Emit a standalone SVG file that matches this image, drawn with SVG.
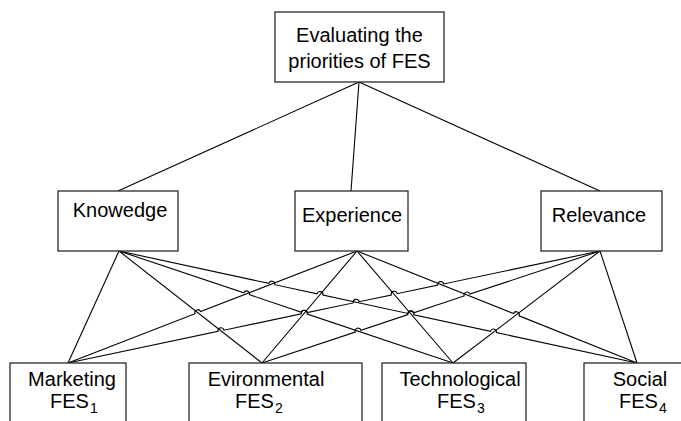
<svg xmlns="http://www.w3.org/2000/svg" width="681" height="421" viewBox="0 0 681 421">
  <style>
    .box { fill: #ffffff; stroke: #2a2a2a; stroke-width: 1.3; }
    .lbl { font-family: "Liberation Sans", Arial, sans-serif; font-size: 20px; fill: #000000; }
    .mid { text-anchor: middle; }
    .sub { font-size: 14px; }
    .wire { fill: none; stroke: #000000; stroke-width: 1.1; }
  </style>
  <rect x="0" y="0" width="681" height="421" fill="#ffffff"/>

  <!-- connectors (hops drawn as small arcs at crossings) -->
  <g id="connectors" class="wire">
    <path d="M359,82 L118,191"/>
    <path d="M359,82 L351,191"/>
    <path d="M359,82 L600,191"/>

    <path d="M68,363 L119,251"/>
    <path d="M119,251 L262,363"/>
    <path d="M119,251 L243.76,292.84 A3,3 0 0 1 249.44,294.74 L301.56,312.22 A3,3 0 0 1 307.24,314.12 L453,363"/>
    <path d="M119,251 L268.87,283.41 A3,3 0 0 1 274.73,284.67 L317.07,293.83 A3,3 0 0 1 322.93,295.09 L407.87,313.46 A3,3 0 0 1 413.73,314.72 L490.57,331.34 A3,3 0 0 1 496.43,332.6 L637,363"/>

    <path d="M68,363 L195,313.78 A3,3 0 0 1 200.6,311.62 L357,251"/>
    <path d="M262,363 L357,251"/>
    <path d="M357,251 L453,363"/>
    <path d="M357,251 L513.51,313.61 A3,3 0 0 1 519.09,315.83 L637,363"/>

    <path d="M68,363 L218.06,331.41 A3,3 0 0 1 223.94,330.17 L301.36,313.87 A3,3 0 0 1 307.24,312.63 L353.26,302.95 A3,3 0 0 1 359.14,301.71 L391.26,294.95 A3,3 0 0 1 397.14,293.71 L437.76,285.16 A3,3 0 0 1 443.64,283.92 L600,251"/>
    <path d="M262,363 L355.25,332.1 A3,3 0 0 1 360.95,330.22 L407.95,314.63 A3,3 0 0 1 413.65,312.75 L464.15,296.01 A3,3 0 0 1 469.85,294.13 L600,251"/>
    <path d="M453,363 L600,251"/>
    <path d="M600,251 L637,363"/>
  </g>

  <g id="goal">
    <rect class="box" x="275" y="12" width="169" height="70"/>
    <text class="lbl mid" x="359.5" y="42">Evaluating the</text>
    <text class="lbl mid" x="359.5" y="68">priorities of FES</text>
  </g>

  <g id="knowledge">
    <rect class="box" x="58" y="191" width="120" height="60"/>
    <text class="lbl mid" x="120" y="217">Knowedge</text>
  </g>

  <g id="experience">
    <rect class="box" x="295" y="191" width="113" height="60"/>
    <text class="lbl mid" x="352" y="222">Experience</text>
  </g>

  <g id="relevance">
    <rect class="box" x="541" y="191" width="121" height="60"/>
    <text class="lbl mid" x="599" y="222">Relevance</text>
  </g>

  <g id="marketing">
    <rect class="box" x="10" y="363" width="116" height="70"/>
    <text class="lbl mid" x="72" y="386">Marketing</text>
    <text class="lbl" x="50" y="408">FES<tspan class="sub" dx="1" dy="5">1</tspan></text>
  </g>

  <g id="environmental">
    <rect class="box" x="189" y="363" width="173" height="70"/>
    <text class="lbl mid" x="266" y="386">Evironmental</text>
    <text class="lbl" x="235" y="408">FES<tspan class="sub" dx="1" dy="5">2</tspan></text>
  </g>

  <g id="technological">
    <rect class="box" x="382" y="363" width="144" height="70"/>
    <text class="lbl mid" x="460" y="386">Technological</text>
    <text class="lbl" x="437" y="408">FES<tspan class="sub" dx="1" dy="5">3</tspan></text>
  </g>

  <g id="social">
    <rect class="box" x="584" y="363" width="110" height="70"/>
    <text class="lbl mid" x="640" y="386">Social</text>
    <text class="lbl" x="619" y="408">FES<tspan class="sub" dx="1" dy="5">4</tspan></text>
  </g>
</svg>
